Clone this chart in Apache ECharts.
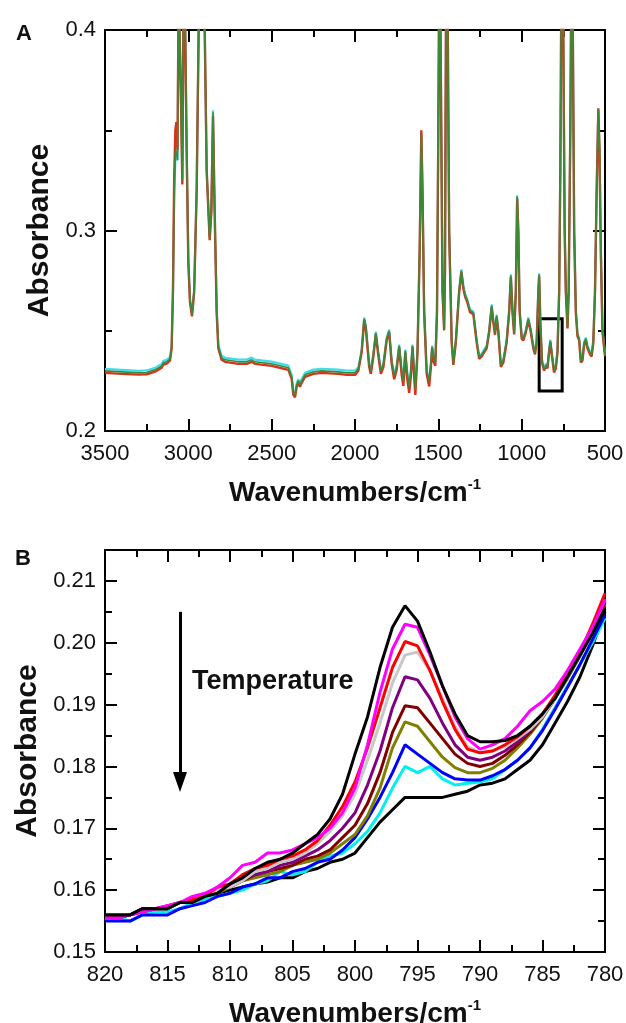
<!DOCTYPE html>
<html>
<head>
<meta charset="utf-8">
<script src="https://cdn.jsdelivr.net/npm/echarts@6/dist/echarts.min.js"></script>
<style>
html, body { margin: 0; padding: 0; background: #fff; }
#chart-container { width: 626px; height: 1023px; }
</style>
</head>
<body>
<div id="chart-container"></div>
<script>
// ---- panel A: full spectrum (wavenumber, absorbance) ----
var wnA = [3500, 3400, 3300, 3250, 3200, 3160, 3150, 3130, 3110, 3100,
    3092, 3085, 3078, 3072, 3065, 3058, 3045, 3036, 3026, 3010,
    3000, 2990, 2978, 2965, 2950, 2935, 2920, 2905, 2890, 2872,
    2862, 2852, 2842, 2830, 2820, 2800, 2780, 2700, 2650, 2620,
    2600, 2500, 2450, 2400, 2380, 2370, 2360, 2350, 2340, 2330,
    2320, 2300, 2250, 2200, 2100, 2050, 2000, 1980, 1960, 1945,
    1935, 1915, 1905, 1890, 1875, 1862, 1845, 1830, 1810, 1795,
    1780, 1765, 1750, 1735, 1720, 1710, 1698, 1688, 1675, 1665,
    1655, 1645, 1638, 1625, 1612, 1602, 1595, 1585, 1570, 1555,
    1545, 1537, 1528, 1518, 1508, 1500, 1493, 1485, 1475, 1465,
    1460, 1452, 1445, 1435, 1420, 1410, 1395, 1375, 1362, 1350,
    1340, 1326, 1310, 1290, 1270, 1255, 1240, 1210, 1195, 1180,
    1170, 1160, 1150, 1140, 1125, 1110, 1090, 1075, 1065, 1055,
    1045, 1035, 1027, 1020, 1012, 1000, 990, 975, 960, 945,
    930, 920, 910, 900, 895, 888, 878, 866, 852, 845,
    838, 828, 818, 806, 795, 785, 775, 768, 760, 752,
    742, 735, 725, 718, 708, 700, 693, 685, 675, 665,
    655, 645, 635, 625, 615, 605, 590, 580, 570, 560,
    550, 540, 533, 525, 515, 500];

var absGreen = [.2300, .2295, .2290, .2292, .2305, .2325, .2340, .2345, .2360, .2420,
    .2700, .3200, .3400, .3390, .3350, .4200, .3700, .3250, .4500, .3400,
    .2850, .2650, .2580, .2700, .3200, .4200, .5000, .4200, .3300, .2960,
    .3100, .3590, .3100, .2600, .2420, .2365, .2355, .2345, .2345, .2355,
    .2345, .2335, .2325, .2315, .2270, .2190, .2180, .2230, .2250, .2230,
    .2250, .2280, .2295, .2300, .2295, .2290, .2290, .2310, .2400, .2560,
    .2520, .2330, .2300, .2380, .2490, .2400, .2300, .2330, .2460, .2500,
    .2350, .2275, .2320, .2425, .2300, .2250, .2400, .2300, .2220, .2300,
    .2425, .2300, .2210, .2400, .2900, .3480, .3200, .2600, .2300, .2250,
    .2330, .2420, .2360, .2340, .2600, .3500, .4500, .3800, .2700, .2510,
    .2800, .4500, .4200, .3000, .2450, .2340, .2450, .2700, .2800, .2720,
    .2680, .2650, .2600, .2590, .2450, .2370, .2380, .2420, .2500, .2625,
    .2550, .2490, .2575, .2500, .2330, .2350, .2450, .2600, .2775, .2600,
    .2490, .2700, .3170, .3000, .2600, .2470, .2460, .2500, .2560, .2500,
    .2420, .2390, .2450, .2700, .2780, .2550, .2350, .2310, .2330, .2320,
    .2380, .2450, .2380, .2300, .2320, .2400, .2700, .3300, .4500, .4200,
    .3000, .2700, .2520, .2700, .3500, .4500, .4000, .3000, .2600, .2480,
    .2460, .2350, .2360, .2440, .2460, .2420, .2390, .2380, .2450, .2700,
    .3200, .3600, .3400, .2900, .2500, .2380];

var absRed = [.2290, .2285, .2281, .2283, .2296, .2316, .2331, .2336, .2351, .2412,
    .2710, .3260, .3500, .3540, .3400, .4200, .3700, .3230, .4500, .3400,
    .2840, .2642, .2572, .2692, .3200, .4200, .5000, .4200, .3300, .2952,
    .3092, .3570, .3092, .2592, .2412, .2355, .2345, .2335, .2335, .2345,
    .2335, .2325, .2315, .2305, .2260, .2180, .2168, .2220, .2240, .2220,
    .2240, .2270, .2285, .2290, .2285, .2280, .2280, .2300, .2392, .2552,
    .2512, .2320, .2285, .2370, .2482, .2390, .2285, .2318, .2452, .2492,
    .2335, .2258, .2305, .2417, .2280, .2225, .2390, .2270, .2190, .2270,
    .2417, .2270, .2180, .2390, .2900, .3500, .3200, .2590, .2285, .2222,
    .2315, .2412, .2345, .2325, .2595, .3500, .4500, .3800, .2692, .2502,
    .2800, .4500, .4200, .3000, .2442, .2330, .2442, .2692, .2792, .2712,
    .2672, .2642, .2592, .2582, .2442, .2360, .2372, .2412, .2492, .2617,
    .2542, .2480, .2567, .2492, .2320, .2342, .2442, .2592, .2767, .2592,
    .2482, .2692, .3160, .2992, .2592, .2462, .2452, .2492, .2552, .2492,
    .2412, .2382, .2442, .2692, .2772, .2542, .2342, .2302, .2322, .2312,
    .2372, .2442, .2372, .2292, .2312, .2392, .2692, .3300, .4500, .4200,
    .3000, .2692, .2512, .2692, .3500, .4500, .4000, .3000, .2592, .2472,
    .2452, .2342, .2352, .2432, .2452, .2412, .2382, .2372, .2442, .2692,
    .3200, .3610, .3400, .2892, .2492, .2372];

var absCyan = [.2310, .2305, .2300, .2302, .2315, .2335, .2350, .2355, .2370, .2430,
    .2700, .3150, .3350, .3380, .3350, .4200, .3700, .3260, .4500, .3400,
    .2855, .2658, .2588, .2708, .3200, .4200, .5000, .4200, .3300, .2966,
    .3105, .3600, .3105, .2608, .2428, .2375, .2365, .2356, .2356, .2366,
    .2356, .2346, .2336, .2326, .2280, .2196, .2185, .2238, .2258, .2238,
    .2258, .2290, .2306, .2310, .2306, .2301, .2301, .2318, .2406, .2566,
    .2526, .2336, .2306, .2386, .2496, .2406, .2306, .2336, .2466, .2506,
    .2356, .2282, .2326, .2431, .2306, .2256, .2406, .2306, .2226, .2306,
    .2431, .2306, .2216, .2406, .2900, .3480, .3200, .2606, .2306, .2256,
    .2336, .2426, .2366, .2346, .2606, .3500, .4500, .3800, .2706, .2516,
    .2800, .4500, .4200, .3000, .2456, .2346, .2456, .2706, .2806, .2726,
    .2686, .2656, .2606, .2596, .2456, .2376, .2386, .2426, .2506, .2631,
    .2556, .2496, .2581, .2506, .2336, .2356, .2456, .2606, .2781, .2606,
    .2496, .2706, .3176, .3006, .2606, .2476, .2466, .2506, .2566, .2506,
    .2426, .2396, .2456, .2706, .2786, .2556, .2356, .2316, .2336, .2326,
    .2386, .2456, .2386, .2306, .2326, .2406, .2706, .3300, .4500, .4200,
    .3000, .2706, .2526, .2706, .3500, .4500, .4000, .3000, .2606, .2486,
    .2466, .2356, .2366, .2446, .2466, .2426, .2396, .2386, .2456, .2706,
    .3200, .3600, .3400, .2906, .2506, .2386];

// region marked with the rectangle in panel A
var boxA = [[895, 0.256], [757, 0.220]];

// ---- panel B: 820-780 cm-1 zoom, one curve per temperature ----
var wnB = [820, 819, 818, 817, 816, 815, 814, 813, 812, 811,
    810, 809, 808, 807, 806, 805, 804, 803, 802, 801,
    800, 799, 798, 797, 796, 795, 794, 793, 792, 791,
    790, 789, 788, 787, 786, 785, 784, 783, 782, 781,
    780];

var bBlackTop = [.156, .156, .156, .157, .157, .157, .158, .158, .159, .1595,
    .161, .162, .1635, .1645, .165, .166, .1675, .169, .1715, .1755,
    .182, .188, .196, .2025, .206, .2035, .1985, .193, .1885, .185,
    .184, .184, .1842, .185, .1865, .1885, .191, .1945, .198, .2015,
    .2055];
var bMagenta = [.1555, .1555, .156, .1565, .157, .1575, .158, .159, .1595, .1605,
    .162, .164, .1645, .166, .166, .1665, .1675, .1685, .170, .1725,
    .1765, .1835, .192, .199, .203, .2025, .198, .193, .188, .1845,
    .1828, .1835, .1845, .1865, .189, .1905, .1925, .1955, .199, .2025,
    .207];
var bRed = [.1555, .1555, .156, .1565, .157, .1575, .158, .1585, .159, .1605,
    .161, .1625, .1635, .164, .165, .1655, .1665, .168, .1705, .1735,
    .1775, .183, .1895, .196, .2002, .1995, .1955, .1905, .186, .1828,
    .1822, .1825, .1835, .1848, .1865, .1885, .1915, .195, .1985, .203,
    .208];
var bGray = [.1555, .1555, .156, .1565, .157, .157, .158, .1585, .159, .160,
    .1605, .1615, .163, .1635, .1645, .165, .166, .1675, .1695, .172,
    .1755, .181, .187, .1935, .198, .1985, .1955, .191, .1865, .1832,
    .1822, .1825, .1832, .1845, .186, .188, .191, .1945, .198, .2025,
    .207];
var bPurple = [.1555, .1555, .156, .1565, .157, .157, .158, .1585, .159, .160,
    .1605, .162, .1625, .163, .164, .1645, .1655, .1665, .168, .170,
    .1725, .177, .1825, .1895, .1945, .194, .191, .187, .1835, .1815,
    .181, .1815, .1825, .184, .1858, .188, .191, .1945, .198, .2022,
    .2068];
var bMaroon = [.1555, .1555, .156, .1565, .157, .157, .158, .1585, .159, .160,
    .1605, .1615, .1625, .163, .1635, .164, .165, .1655, .1665, .1685,
    .1705, .174, .179, .1855, .1898, .1895, .187, .1845, .182, .1805,
    .180, .1805, .1818, .1835, .1855, .188, .191, .1945, .198, .202,
    .2065];
var bOlive = [.1555, .1555, .156, .1565, .157, .157, .158, .158, .159, .1595,
    .1605, .1615, .162, .1625, .163, .164, .1645, .165, .166, .1675,
    .169, .172, .1765, .183, .1872, .1865, .184, .1815, .1798, .179,
    .179, .1797, .181, .183, .1852, .1878, .191, .1942, .1978, .2018,
    .2062];
var bBlue = [.155, .155, .155, .156, .156, .156, .157, .1575, .158, .159,
    .1595, .1605, .161, .162, .162, .163, .1635, .1645, .165, .1665,
    .1685, .1715, .175, .179, .1835, .182, .1805, .179, .178, .1778,
    .1778, .1785, .1795, .181, .183, .1858, .1892, .1928, .1965, .2005,
    .2045];
var bCyan = [.155, .1555, .155, .156, .1565, .1565, .157, .158, .1585, .159,
    .1595, .160, .161, .1615, .163, .1625, .163, .1645, .1655, .166,
    .1675, .1695, .1725, .1765, .180, .179, .180, .178, .177, .1773,
    .1775, .178, .1795, .181, .183, .186, .1895, .193, .1965, .200,
    .204];
var bBlackBottom = [.156, .156, .156, .157, .157, .157, .158, .158, .159, .1595,
    .160, .1605, .161, .1613, .162, .162, .163, .1635, .1645, .165,
    .166, .1685, .171, .173, .175, .175, .175, .175, .1755, .176,
    .177, .1773, .178, .1795, .181, .1835, .187, .1905, .1945, .1995,
    .205];

// temperature arrow in panel B data coordinates: shaft start, shaft end, head centre
var arrowB = [[814, 0.205], [814, 0.1785], [814, 0.1775]];

function pairs(xs, ys) {
    return xs.map(function (x, i) { return [x, ys[i]]; });
}

var FONT = '"Liberation Sans", Arial, Helvetica, sans-serif';
var axisLineStyle = { color: '#000', width: 2 };

function xAx(gridIndex, pos, min, max, interval, showLabel, name) {
    return {
        type: 'value', gridIndex: gridIndex, position: pos,
        min: min, max: max, interval: interval, inverse: true,
        axisLine: { show: true, onZero: false, lineStyle: axisLineStyle },
        axisTick: { show: true, inside: true, length: 12, lineStyle: { width: 2, color: '#000' } },
        minorTick: { show: true, splitNumber: 2, length: 7, lineStyle: { width: 2, color: '#000' } },
        splitLine: { show: false },
        axisLabel: {
            show: showLabel, fontFamily: FONT, fontSize: 22, color: '#111', margin: 12,
            formatter: function (v) { return String(v); }
        },
        name: name || '',
        nameLocation: 'middle',
        nameGap: 46,
        nameTextStyle: {
            fontFamily: FONT, fontSize: 28, fontWeight: 'bold', color: '#111',
            rich: { s: { fontFamily: FONT, fontSize: 15, fontWeight: 'bold', color: '#111', padding: [0, 0, 17, 0] } }
        }
    };
}

function yAx(gridIndex, pos, min, max, interval, opts) {
    opts = opts || {};
    return {
        type: 'value', gridIndex: gridIndex, position: pos,
        min: min, max: max, interval: interval,
        axisLine: { show: opts.line !== false, onZero: false, lineStyle: axisLineStyle },
        axisTick: { show: true, inside: true, length: opts.tickLen || 12, lineStyle: { width: 2, color: '#000' } },
        minorTick: { show: !!opts.minor, splitNumber: 2, length: 7, lineStyle: { width: 2, color: '#000' } },
        splitLine: { show: false },
        axisLabel: {
            show: !!opts.fmt, fontFamily: FONT, fontSize: 22, color: '#111', margin: 9,
            showMaxLabel: opts.showMax !== false,
            formatter: function (v) { return opts.fmt ? v.toFixed(opts.fmt) : ''; }
        },
        name: opts.name || '',
        nameLocation: 'middle',
        nameGap: 50,
        nameRotate: 90,
        nameTextStyle: { fontFamily: FONT, fontSize: 30, fontWeight: 'bold', color: '#111' }
    };
}

function lineSeries(xi, yi, data, color, width, z) {
    return {
        type: 'line', xAxisIndex: xi, yAxisIndex: yi, data: data,
        showSymbol: false, symbol: 'none', smooth: false, clip: true,
        lineStyle: { color: color, width: width }, z: z
    };
}

var myChart = echarts.init(document.getElementById('chart-container'), null, { renderer: 'canvas' });

var seriesB = [
    ['#000000', bBlackBottom], ['#00f0f0', bCyan], ['#0000ff', bBlue], ['#808000', bOlive],
    ['#800000', bMaroon], ['#800080', bPurple], ['#c8c8c8', bGray], ['#ff0000', bRed],
    ['#ff00ff', bMagenta], ['#000000', bBlackTop]
].map(function (s, i) {
    return lineSeries(2, 2, pairs(wnB, s[1]), s[0], 3, 10 + i);
});

// temperature arrow: shaft as a markLine, head as a markPoint triangle
seriesB[0].markLine = {
    silent: true, animation: false,
    symbol: ['none', 'none'],
    label: { show: false },
    lineStyle: { color: '#000', width: 3, type: 'solid' },
    data: [[{ coord: arrowB[0] }, { coord: arrowB[1] }]]
};
seriesB[0].markPoint = {
    silent: true, animation: false,
    symbol: 'triangle', symbolRotate: 180, symbolSize: [14, 20],
    itemStyle: { color: '#000' },
    label: { show: false },
    data: [{ coord: arrowB[2] }]
};

var greenA = lineSeries(0, 0, pairs(wnA, absGreen), '#3d8a3a', 1.6, 12);
greenA.markArea = {
    silent: true,
    itemStyle: { color: 'rgba(0,0,0,0)', borderColor: '#000', borderWidth: 3 },
    data: [[{ coord: boxA[0] }, { coord: boxA[1] }]]
};

var option = {
    animation: false,
    backgroundColor: '#fff',
    grid: [
        { left: 105, right: 21, top: 30, height: 401, outerBoundsMode: 'none' },
        { left: 105, right: 21, top: 550, height: 402, outerBoundsMode: 'none' }
    ],
    xAxis: [
        xAx(0, 'bottom', 500, 3500, 500, true, 'Wavenumbers/cm{s|-1}'),
        xAx(0, 'top', 500, 3500, 500, false),
        xAx(1, 'bottom', 780, 820, 5, true, 'Wavenumbers/cm{s|-1}'),
        xAx(1, 'top', 780, 820, 5, false)
    ],
    yAxis: [
        yAx(0, 'left', 0.2, 0.4, 0.1, { fmt: 1, minor: true, name: 'Absorbance' }),
        yAx(0, 'right', 0.2, 0.4, 0.1, { minor: true }),
        yAx(1, 'left', 0.15, 0.215, 0.01, { fmt: 2, showMax: false, name: 'Absorbance' }),
        yAx(1, 'left', 0.15, 0.215, 0.005, { line: false, tickLen: 7 }),
        yAx(1, 'right', 0.15, 0.215, 0.01, {}),
        yAx(1, 'right', 0.15, 0.215, 0.005, { line: false, tickLen: 7 })
    ],
    graphic: [
        { type: 'text', left: 16, top: 23, style: { text: 'A', font: 'bold 22px ' + FONT, fill: '#111' } },
        { type: 'text', left: 15, top: 548, style: { text: 'B', font: 'bold 22px ' + FONT, fill: '#111' } },
        { type: 'text', left: 192, top: 668, style: { text: 'Temperature', font: 'bold 27px ' + FONT, fill: '#111' } }
    ],
    series: [
        lineSeries(0, 0, pairs(wnA, absCyan), '#3fdcec', 2.2, 10),
        lineSeries(0, 0, pairs(wnA, absRed), '#d8321a', 2.4, 11),
        greenA
    ].concat(seriesB)
};

myChart.setOption(option);
</script>
</body>
</html>
